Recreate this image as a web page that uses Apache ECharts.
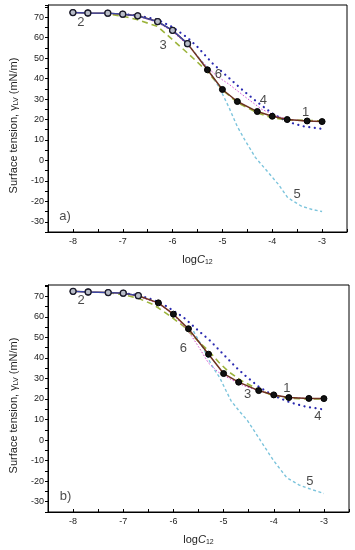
<!DOCTYPE html>
<html><head><meta charset="utf-8">
<script src="https://cdn.jsdelivr.net/npm/echarts@6/dist/echarts.min.js"></script>
<style>html,body{margin:0;padding:0;background:#fff}#c{width:355px;height:550px}</style>
</head><body><div id="c"></div>
<script>
// ---- data ----
const logC = [-8, -7.7, -7.3, -7, -6.7, -6.3, -6, -5.7, -5.3, -5, -4.7, -4.3, -4, -3.7, -3.3, -3];
const a1 = [72.3, 72.1, 72.0, 71.5, 70.7, 67.9, 63.6, 57.1, 44.3, 34.7, 28.8, 23.9, 21.6, 20.0, 19.3, 19.0];
const b1 = [72.4, 72.1, 71.8, 71.5, 70.3, 66.8, 61.3, 54.2, 41.8, 32.4, 28.2, 24.1, 22.0, 20.7, 20.3, 20.2];
const a2Count = 8;   // points of curve 2 in panel a
const b2Count = 5;   // points of curve 2 in panel b

const a3x = [-7.2, -7, -6.7, -6.3, -6, -5.7, -5.5, -5.3, -5, -4.7, -4.3, -4, -3.7, -3.3, -3];
const a3y = [71.2, 70.5, 68.8, 65.5, 59, 52.5, 48, 43.5, 34.5, 28.3, 23.3, 20.8, 19.8, 19.5, 19.4];
const a4x = [-7, -6.7, -6.3, -6, -5.7, -5.5, -5.2, -4.9, -4.6, -4.3, -4.0, -3.7, -3.4, -3.0];
const a4y = [71.6, 70.9, 68.8, 65.2, 60, 55.5, 47.5, 41, 34.5, 28.5, 23, 19, 16.8, 15.4];
const a5x = [-5.7, -5.5, -5.3, -5.07, -4.87, -4.7, -4.55, -4.34, -4.08, -3.88, -3.69, -3.42, -3.2, -3.0];
const a5y = [57, 51, 45, 36, 26, 16.5, 10, 1.5, -5.9, -11.6, -18.2, -22.3, -24, -25];
const a6x = [-7, -6.7, -6.3, -6, -5.7, -5.3, -5.1, -4.87, -4.54, -4.21, -3.9, -3.6, -3.3, -3];
const a6y = [71.5, 70.5, 67.5, 63, 56.5, 45.5, 41, 37.3, 31, 25, 21.5, 19.8, 19.2, 19];

const b3x = [-7.3, -7, -6.7, -6.4, -6.1, -5.8, -5.5, -5.3, -5.1, -4.9, -4.65, -4.3, -4.0, -3.7, -3.3, -3];
const b3y = [71.8, 70.8, 69, 66, 61, 55.5, 48, 43.5, 38, 33.3, 29, 24.5, 21.5, 20.3, 20, 20];
const b4x = [-7, -6.7, -6.4, -6.16, -5.8, -5.54, -5.27, -5.01, -4.75, -4.55, -4.3, -4.0, -3.67, -3.35, -3.05];
const b4y = [71.6, 70.6, 68.3, 65.5, 59.8, 54.1, 48.4, 41.9, 35.4, 31, 26, 21.6, 18.3, 16.2, 15.1];
const b5x = [-5.6, -5.4, -5.24, -5.08, -4.95, -4.85, -4.7, -4.52, -4.26, -4.0, -3.74, -3.5, -3.35, -3.0];
const b5y = [53, 44.5, 36.5, 30.5, 24, 19.1, 14.5, 9.4, -0.4, -10.1, -18.3, -21.8, -23.2, -26];
const b6x = [-7, -6.7, -6.3, -6, -5.7, -5.5, -5.3, -5.1, -4.85, -4.6, -4.3, -4, -3.7, -3.3, -3];
const b6y = [71.4, 70, 66.5, 61, 53, 45.5, 37.5, 33, 29.5, 26.5, 24, 22, 20.7, 20.3, 20.2];

// curve number labels (text, logC, gamma)
const aLabels = [['2', -7.84, 67.3], ['3', -6.19, 56.4], ['6', -5.08, 42.1], ['4', -4.18, 29.3], ['1', -3.33, 23.6], ['5', -3.50, -16.5], ['a)', -8.16, -27.2]];
const bLabels = [['2', -7.84, 68.2], ['6', -5.80, 44.8], ['3', -4.52, 22.0], ['1', -3.74, 25.3], ['4', -3.12, 11.3], ['5', -3.28, -20.2], ['b)', -8.15, -27.2]];

const xMin = -8.5, xMax = -2.5;
const yMinA = -35, yMaxA = 76, yMinB = -35, yMaxB = 75.5;

// ---- helpers ----
const pair = (xs, ys) => xs.map((x, i) => [x, ys[i]]);
const FONT = 'Liberation Sans, Arial, sans-serif';

function xAxis(idx) {
  return {
    type: 'value', gridIndex: idx, min: xMin, max: xMax, interval: 0.5,
    name: 'log{i|C}{s|12}', nameLocation: 'middle', nameGap: 21,
    nameTextStyle: { fontFamily: FONT, fontSize: 11, color: '#222',
      rich: { i: { fontStyle: 'italic', fontSize: 11, fontFamily: FONT, color: '#222' },
              s: { fontSize: 7, fontFamily: FONT, color: '#222', verticalAlign: 'bottom', padding: [6, 0, 0, 0] } } },
    axisLine: { show: true, onZero: false, lineStyle: { color: '#000', width: 1 } },
    axisTick: { show: true, inside: true, length: 3, lineStyle: { color: '#000' } },
    axisLabel: { fontFamily: FONT, fontSize: 9, color: '#222', margin: 5,
      formatter: v => (Math.abs(v - Math.round(v)) < 1e-6 ? String(Math.round(v)) : '') },
    splitLine: { show: false }
  };
}
function yAxis(idx, mn, mx) {
  return {
    type: 'value', gridIndex: idx, min: mn, max: mx, interval: 5,
    name: 'Surface tension, {g|γ}{s|LV} (mN/m)', nameLocation: 'middle', nameGap: 28, nameRotate: 90,
    nameTextStyle: { fontFamily: FONT, fontSize: 11, color: '#222', padding: [0, 14, 0, 0],
      rich: { g: { fontSize: 11, fontFamily: FONT, color: '#222' },
              s: { fontSize: 7, fontFamily: FONT, color: '#222', verticalAlign: 'bottom', padding: [6, 0, 0, 0] } } },
    axisLine: { show: true, onZero: false, lineStyle: { color: '#000', width: 1 } },
    axisTick: { show: true, inside: false, length: 3, lineStyle: { color: '#000' } },
    axisLabel: { fontFamily: FONT, fontSize: 9, color: '#222', margin: 4,
      formatter: v => (Math.round(v) % 10 === 0 && Math.abs(v - Math.round(v)) < 1e-6 ? String(Math.round(v)) : '') },
    splitLine: { show: false }
  };
}

function panelSeries(idx, d1, n2, c3, c4, c5, c6, labels) {
  const base = { xAxisIndex: idx, yAxisIndex: idx, animation: false, silent: true };
  return [
    Object.assign({ type: 'line', data: pair(c3[0], c3[1]), symbol: 'none',
      lineStyle: { color: '#9cb43c', width: 1.6, type: [6, 4] }, z: 2 }, base),
    Object.assign({ type: 'line', data: pair(c5[0], c5[1]), symbol: 'none',
      lineStyle: { color: '#7cc4dc', width: 1.4, type: [3, 2.5] }, z: 2 }, base),
    Object.assign({ type: 'line', data: pair(c4[0], c4[1]), symbol: 'none',
      lineStyle: { color: '#2a2ab0', width: 2.2, type: [0.1, 5.5], cap: 'round' }, z: 3 }, base),
    Object.assign({ type: 'line', data: pair(c6[0], c6[1]), symbol: 'none',
      lineStyle: { color: '#d24ad0', width: 1, type: [1.5, 1.8] }, z: 3 }, base),
    Object.assign({ type: 'line', data: pair(logC, d1), symbol: 'circle', symbolSize: 6,
      itemStyle: { color: '#111', borderColor: '#000', borderWidth: 1 },
      lineStyle: { color: '#6e3320', width: 1.5 }, z: 4 }, base),
    Object.assign({ type: 'line', data: pair(logC.slice(0, n2), d1.slice(0, n2)), symbol: 'circle', symbolSize: 6,
      itemStyle: { color: '#b8bcc8', borderColor: '#1a1a2a', borderWidth: 1.3 },
      lineStyle: { color: '#3a48a8', width: 1.3 }, z: 5 }, base),
    Object.assign({ type: 'scatter', symbolSize: 0, z: 6,
      data: labels.map(l => ({ value: [l[1], l[2]], name: l[0] })),
      label: { show: true, position: 'inside', formatter: p => p.name,
        fontFamily: FONT, fontSize: 13, color: '#1a1a1a' } }, base)
  ];
}

const chart = echarts.init(document.getElementById('c'), null, { renderer: 'canvas' });
chart.setOption({
  backgroundColor: '#fff',
  animation: false,
  grid: [
    { left: 44, top: 5, width: 303, height: 227, show: true, borderColor: '#000', borderWidth: 1, backgroundColor: 'transparent' },
    { left: 44, top: 285, width: 305, height: 227, show: true, borderColor: '#000', borderWidth: 1, backgroundColor: 'transparent' }
  ],
  xAxis: [xAxis(0), xAxis(1)],
  yAxis: [yAxis(0, yMinA, yMaxA), yAxis(1, yMinB, yMaxB)],
  series: [].concat(
    panelSeries(0, a1, a2Count, [a3x, a3y], [a4x, a4y], [a5x, a5y], [a6x, a6y], aLabels),
    panelSeries(1, b1, b2Count, [b3x, b3y], [b4x, b4y], [b5x, b5y], [b6x, b6y], bLabels)
  )
});
</script>
</body></html>
